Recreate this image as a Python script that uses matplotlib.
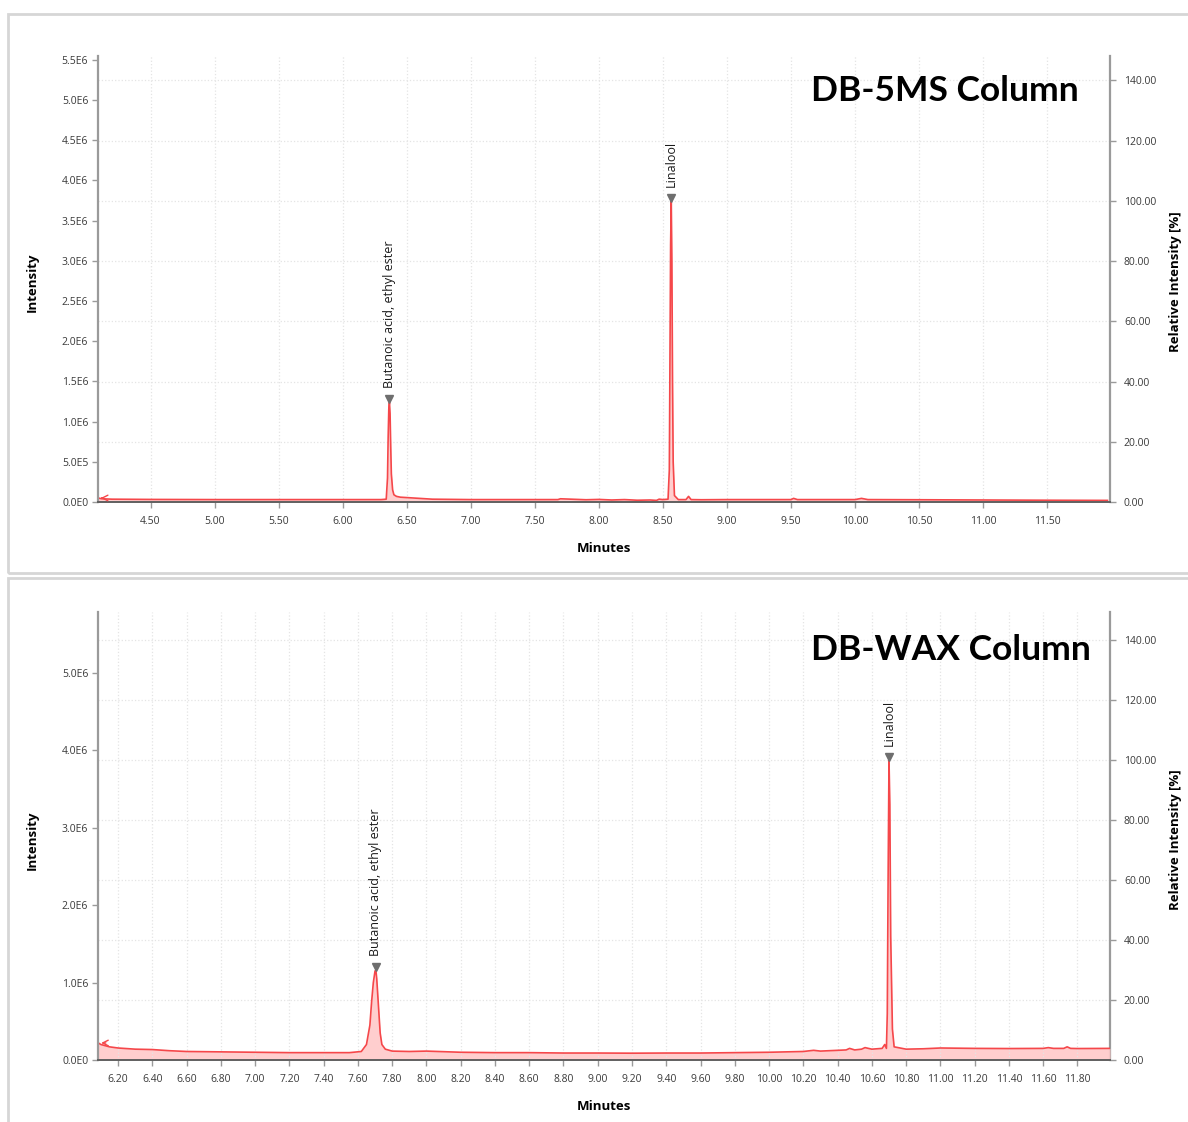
import numpy as np
import matplotlib.pyplot as plt
import matplotlib.transforms as mtransforms
from matplotlib.patches import Rectangle
from matplotlib.ticker import FuncFormatter, MultipleLocator

plt.rcParams['font.family'] = ['Open Sans', 'DejaVu Sans']

# DB-5MS trace (minutes, intensity in 1E6 counts)
top_time = [4.09, 4.12, 4.2, 4.5, 5.0, 5.5, 6.0, 6.3, 6.34, 6.35, 6.355, 6.36, 6.365,
            6.37, 6.375, 6.38, 6.39, 6.40, 6.42, 6.45, 6.5, 6.6, 6.7, 7.0, 7.5, 7.68,
            7.7, 7.9, 8.0, 8.1, 8.2, 8.3, 8.4, 8.45, 8.47, 8.5, 8.54, 8.55, 8.555, 8.56,
            8.565, 8.57, 8.575, 8.58, 8.59, 8.62, 8.68, 8.70, 8.72, 8.8, 9.0, 9.5, 9.52,
            9.55, 10.0, 10.05, 10.1, 10.5, 11.0, 11.5, 11.97]
top_int = [0.05, 0.04, 0.035, 0.032, 0.03, 0.03, 0.03, 0.03, 0.035, 0.3, 0.8, 1.15, 1.24,
           1.1, 0.7, 0.35, 0.15, 0.09, 0.07, 0.06, 0.055, 0.045, 0.035, 0.03, 0.03, 0.03,
           0.04, 0.028, 0.032, 0.025, 0.03, 0.022, 0.025, 0.02, 0.035, 0.03, 0.035, 0.4,
           1.8, 3.2, 3.745, 3.0, 1.5, 0.5, 0.08, 0.03, 0.03, 0.07, 0.03, 0.028, 0.03, 0.03,
           0.045, 0.03, 0.03, 0.045, 0.03, 0.028, 0.025, 0.022, 0.02]

# DB-WAX trace
bot_time = [6.085, 6.1, 6.15, 6.2, 6.3, 6.4, 6.5, 6.6, 6.8, 7.0, 7.2, 7.4, 7.55, 7.62,
            7.65, 7.67, 7.68, 7.69, 7.70, 7.705, 7.71, 7.72, 7.73, 7.74, 7.76, 7.8, 7.9,
            8.0, 8.2, 8.4, 8.6, 8.8, 9.0, 9.2, 9.4, 9.6, 9.8, 10.0, 10.2, 10.26, 10.3,
            10.4, 10.45, 10.47, 10.5, 10.54, 10.56, 10.6, 10.66, 10.675, 10.685, 10.69,
            10.695, 10.70, 10.705, 10.71, 10.72, 10.73, 10.8, 10.9, 11.0, 11.2, 11.4,
            11.6, 11.63, 11.66, 11.72, 11.74, 11.76, 11.8, 11.99]
bot_int = [0.22, 0.2, 0.17, 0.155, 0.14, 0.135, 0.12, 0.11, 0.105, 0.1, 0.095, 0.095,
           0.095, 0.11, 0.2, 0.45, 0.75, 1.0, 1.15, 1.16, 1.05, 0.7, 0.35, 0.2, 0.14,
           0.115, 0.11, 0.115, 0.1, 0.095, 0.095, 0.09, 0.09, 0.088, 0.09, 0.09, 0.095,
           0.1, 0.11, 0.125, 0.115, 0.125, 0.13, 0.15, 0.13, 0.14, 0.16, 0.14, 0.15, 0.2,
           0.15, 0.6, 2.4, 3.876, 3.3, 1.6, 0.4, 0.17, 0.14, 0.145, 0.155, 0.15, 0.148,
           0.15, 0.16, 0.15, 0.15, 0.17, 0.15, 0.148, 0.15]

peak_names = ['Butanoic acid, ethyl ester', 'Linalool']
top_peaks = [6.365, 8.565]
bot_peaks = [7.705, 10.70]

top_xticks = [4.5, 5.0, 5.5, 6.0, 6.5, 7.0, 7.5, 8.0, 8.5, 9.0, 9.5, 10.0, 10.5, 11.0, 11.5]
bot_xticks = [6.2, 6.4, 6.6, 6.8, 7.0, 7.2, 7.4, 7.6, 7.8, 8.0, 8.2, 8.4, 8.6, 8.8, 9.0,
              9.2, 9.4, 9.6, 9.8, 10.0, 10.2, 10.4, 10.6, 10.8, 11.0, 11.2, 11.4, 11.6, 11.8]
rel_ticks = [0, 20, 40, 60, 80, 100, 120, 140]

RED = '#f5474a'
FILL = '#ffc9c9'
SPINE = '#9a9a9a'
GRID = '#e4e4e4'
TICKC = '#3a3a3a'
W, H = 1188, 1122


def sci(v, pos):
    if v <= 0:
        return '0.0E0'
    e = int(np.floor(np.log10(v) + 1e-9))
    return f'{v / 10 ** e:.1f}E{e}'


def panel(rect, t, y, xlim, ymax, ystep, xticks, peaks, title, ty):
    ax = fig.add_axes(rect)
    ax2 = ax.twinx()
    ax.set_zorder(ax2.get_zorder() + 1)
    ax.patch.set_visible(False)

    t = np.array(t)
    y = np.array(y) * 1e6
    ax.fill_between(t, 0, y, color=FILL, lw=0, alpha=0.9)
    ax.plot(t, y, color=RED, lw=1.2)
    ax.annotate('', xy=(t[0], y[0]), xytext=(t[0] + 0.06, y[0]),
                arrowprops=dict(arrowstyle='->', color=RED, lw=1.0))

    off = mtransforms.offset_copy(ax.transData, fig=fig, y=3, units='dots')
    for name, pt in zip(peak_names, peaks):
        h = np.interp(pt, t, y)
        ax.plot([pt], [h], marker='v', ms=6, color='#6e6e6e', transform=off, clip_on=False)
        ax.annotate(name, xy=(pt, h), xytext=(0, 10), textcoords='offset points',
                    rotation=90, ha='center', va='bottom', fontsize=9, color='#1a1a1a')

    ax.set_xlim(*xlim)
    ax.set_ylim(0, ymax)
    ax2.set_ylim(0, ymax / y.max() * 100)

    ax.set_xticks(xticks)
    ax.xaxis.set_major_formatter(FuncFormatter(lambda v, p: f'{v:.2f}'))
    ax.yaxis.set_major_locator(MultipleLocator(ystep))
    ax.yaxis.set_major_formatter(FuncFormatter(sci))
    ax2.set_yticks(rel_ticks)
    ax2.yaxis.set_major_formatter(FuncFormatter(lambda v, p: f'{v:.2f}'))

    ax.grid(axis='x', color=GRID, ls=':', lw=0.9)
    ax2.grid(axis='y', color=GRID, ls=':', lw=0.9)

    for a in (ax, ax2):
        for s in a.spines.values():
            s.set_visible(False)
        a.tick_params(colors=SPINE, labelcolor=TICKC, labelsize=7.5, length=4, width=1)
    ax.spines['left'].set_visible(True)
    ax.spines['left'].set_color(SPINE)
    ax.spines['left'].set_linewidth(1.6)
    ax.spines['bottom'].set_visible(True)
    ax.spines['bottom'].set_color('#606060')
    ax.spines['bottom'].set_linewidth(1.4)
    ax2.spines['right'].set_visible(True)
    ax2.spines['right'].set_color(SPINE)
    ax2.spines['right'].set_linewidth(1.6)
    ax.tick_params(axis='x', pad=6)
    ax.tick_params(axis='y', pad=3)
    ax2.tick_params(axis='y', pad=6)

    fig.text(811 / W, 1 - ty / H, title, fontsize=25.5, fontweight='bold',
             family=['Lato', 'DejaVu Sans'], ha='left', va='center', color='black')
    return ax


fig = plt.figure(figsize=(W / 100, H / 100), dpi=100)

# panel frames
fig.patches.append(Rectangle((8 / W, 1 - 573 / H), 1.0, 559 / H, transform=fig.transFigure,
                             fill=False, ec='#d6d6d6', lw=2))
fig.patches.append(Rectangle((8 / W, -0.01), 1.0, 1 - 578 / H + 0.01, transform=fig.transFigure,
                             fill=False, ec='#d6d6d6', lw=2))

panel([98 / W, 1 - 502 / H, 1012 / W, 446 / H], top_time, top_int, (4.09, 11.99),
      5.547e6, 0.5e6, top_xticks, top_peaks, 'DB-5MS Column', 91)
panel([98 / W, 1 - 1060 / H, 1012 / W, 448 / H], bot_time, bot_int, (6.083, 11.99),
      5.788e6, 1.0e6, bot_xticks, bot_peaks, 'DB-WAX Column', 650)

for yc, yl in ((282, 549), (840, 1107)):
    fig.text(32 / W, 1 - yc / H, 'Intensity', rotation=90, fontsize=9.5, fontweight='bold',
             ha='center', va='center')
    fig.text(1175 / W, 1 - yc / H, 'Relative Intensity [%]', rotation=90, fontsize=9.5,
             fontweight='bold', ha='center', va='center')
    fig.text(604 / W, 1 - yl / H, 'Minutes', fontsize=9.5, fontweight='bold',
             ha='center', va='center')

fig.savefig('out.png', dpi=100)
